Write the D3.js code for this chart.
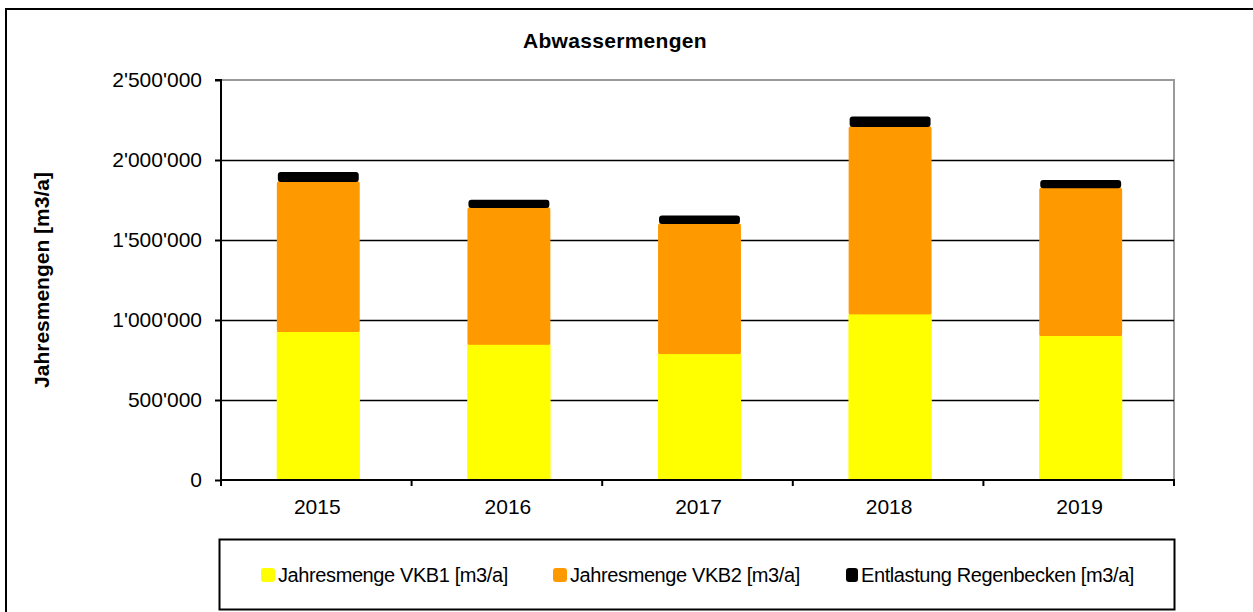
<!DOCTYPE html>
<html><head><meta charset="utf-8">
<script src="https://cdn.jsdelivr.net/npm/d3@7"></script>
<style>
body{margin:0;background:#fff;}
text{font-family:"Liberation Sans",Arial,sans-serif;}
</style></head>
<body><svg id="c" width="1253" height="612"></svg>
<script>
const categories = ["2015","2016","2017","2018","2019"];
const seriesNames = ["Jahresmenge VKB1 [m3/a]","Jahresmenge VKB2 [m3/a]","Entlastung Regenbecken [m3/a]"];
const vkb1 = [925000, 845000, 787000, 1035000, 900000];
const vkb2 = [944000, 862000, 819000, 1177000, 930000];
const entlastung = [56000, 44000, 47000, 60000, 45000];
const yTicks = [0, 500000, 1000000, 1500000, 2000000, 2500000];
const colors = ["#FFFF00","#FF9900","#000000"];

const svg = d3.select("#c");
const W = 1253, H = 612;
const m = {l:221, r:1174, t:80, b:480};

// outer frame
svg.append("rect").attr("x",6).attr("y",9).attr("width",W+10).attr("height",H+10)
  .attr("fill","#fff").attr("stroke","#000").attr("stroke-width",2);

const x = d3.scaleBand().domain(categories).range([m.l, m.r]).paddingInner(0.565).paddingOuter(0.2825);
const y = d3.scaleLinear().domain([0, 2500000]).range([m.b, m.t]);

// plot border (gray)
svg.append("rect").attr("x",m.l).attr("y",m.t).attr("width",m.r-m.l).attr("height",m.b-m.t)
  .attr("fill","none").attr("stroke","#9a9a9a").attr("stroke-width",2);

// gridlines
svg.append("g").selectAll("line").data(yTicks.filter(d=>d>0 && d<2500000)).join("line")
  .attr("x1",m.l).attr("x2",m.r).attr("y1",d=>Math.round(y(d))+0.5).attr("y2",d=>Math.round(y(d))+0.5)
  .attr("stroke","#000").attr("stroke-width",1.3);

// stacked bars
const rows = categories.map((c,i)=>({cat:c, s0:vkb1[i], s1:vkb2[i], s2:entlastung[i]}));
const stack = d3.stack().keys(["s0","s1","s2"])(rows);
const g = svg.append("g").attr("transform","translate(2,0)");
stack.forEach((layer, k)=>{
  g.selectAll(null).data(layer).join("rect")
    .attr("x", d=>x(d.data.cat) + (k===2?1:0))
    .attr("width", x.bandwidth() - (k===2?2:0))
    .attr("y", d=>y(d[1]))
    .attr("height", d=>y(d[0]) - y(d[1]) + (k===0?0:1))
    .attr("rx", k===0?0:3)
    .attr("fill", colors[k]);
});
g.selectAll(null).data(stack[0]).join("rect")
  .attr("x", d=>x(d.data.cat)).attr("width", x.bandwidth())
  .attr("y", d=>y(d[1])).attr("height", d=>y(d[0])-y(d[1]))
  .attr("fill", colors[0]);

// y axis
const yAxis = d3.axisLeft(y).tickValues(yTicks).tickSize(6).tickPadding(13)
  .tickFormat(d=>d3.format(",")(d).replace(/,/g,"'"));
const ya = svg.append("g").attr("transform",`translate(${m.l},0)`).call(yAxis);
ya.select(".domain").attr("stroke","#000").attr("stroke-width",2).attr("d",`M-6,${m.t}H0V${m.b}`);
ya.selectAll(".tick line").attr("stroke","#000").attr("stroke-width",2);
ya.selectAll("text").attr("font-size",21).attr("fill","#000").attr("font-family","Liberation Sans, Arial, sans-serif");

// x axis
const xa = svg.append("g").attr("transform",`translate(0,${m.b})`);
xa.append("line").attr("x1",m.l-1).attr("x2",m.r+1).attr("y1",0).attr("y2",0).attr("stroke","#000").attr("stroke-width",2);
const bounds = d3.range(categories.length+1).map(i=>m.l + i*(m.r-m.l)/categories.length);
xa.selectAll("line.t").data(bounds).join("line").attr("class","t")
  .attr("x1",d=>d).attr("x2",d=>d).attr("y1",0).attr("y2",6).attr("stroke","#000").attr("stroke-width",2);
xa.selectAll("text").data(categories).join("text")
  .attr("x",d=>x(d)+x.bandwidth()/2 + 1).attr("y",34).attr("text-anchor","middle")
  .attr("font-size",21).attr("fill","#000").text(d=>d);

// title
svg.append("text").attr("x",615).attr("y",48).attr("text-anchor","middle")
  .attr("font-size",21).attr("font-weight","bold").attr("letter-spacing",0.3).text("Abwassermengen");

// y label
svg.append("text").attr("transform","translate(49,280) rotate(-90)").attr("text-anchor","middle")
  .attr("font-size",21).attr("font-weight","bold").text("Jahresmengen [m3/a]");

// legend
svg.append("rect").attr("x",219.5).attr("y",539.5).attr("width",955).attr("height",70)
  .attr("fill","#fff").attr("stroke","#000").attr("stroke-width",2);
const legX = [261, 553, 846];
const lg = svg.append("g").selectAll("g").data(seriesNames).join("g")
  .attr("transform",(d,i)=>`translate(${legX[i]},0)`);
lg.append("rect").attr("x",0).attr("y",568).attr("width",(d,i)=>i===2?12:14).attr("height",14)
  .attr("rx",3).attr("fill",(d,i)=>colors[i]);
lg.append("text").attr("x",(d,i)=>i===2?15:17).attr("y",582).attr("font-size",20).attr("letter-spacing",-0.4)
  .text(d=>d);
</script></body></html>
